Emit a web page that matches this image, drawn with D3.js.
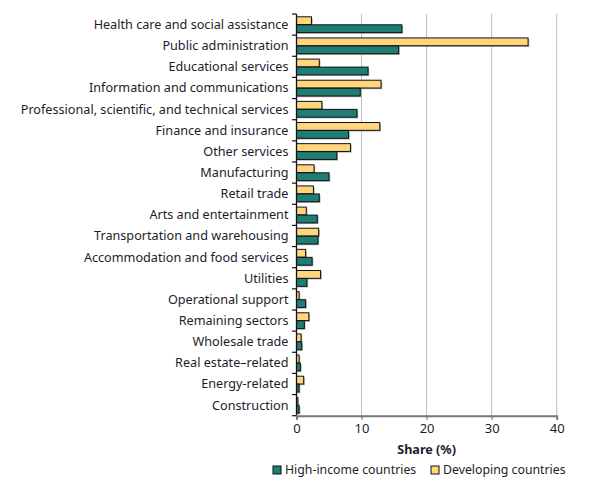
<!DOCTYPE html>
<html><head><meta charset="utf-8">
<script src="https://cdn.jsdelivr.net/npm/d3@7"></script>
<style>
html,body{margin:0;padding:0;background:#fff;}
svg{display:block;font-family:"Noto Sans",sans-serif;}
</style></head>
<body><svg id="c" width="599" height="488"></svg>
<script>
const categories = ["Health care and social assistance","Public administration","Educational services","Information and communications","Professional, scientific, and technical services","Finance and insurance","Other services","Manufacturing","Retail trade","Arts and entertainment","Transportation and warehousing","Accommodation and food services","Utilities","Operational support","Remaining sectors","Wholesale trade","Real estate–related","Energy-related","Construction"];
const highIncome = [16.2,15.7,11.0,9.8,9.3,8.0,6.2,5.0,3.5,3.2,3.3,2.4,1.6,1.4,1.2,0.8,0.6,0.4,0.4];
const developing = [2.3,35.6,3.5,13.0,3.9,12.8,8.3,2.7,2.6,1.5,3.4,1.4,3.7,0.4,1.9,0.7,0.4,1.1,0.2];
const xTicks = [0,10,20,30,40];
const seriesNames = ["High-income countries","Developing countries"];
const colors = {high:"#1e7e74", dev:"#ffd57e"};

const svg = d3.select("#c");
const x = d3.scaleLinear().domain([0,40]).range([296.5,556.7]);
const y = d3.scaleBand().domain(categories).range([14,415.7]).paddingInner(0).paddingOuter(0);
const bw = y.bandwidth();
const barH = 7.8;
const topOff = 2.8;

// gridlines
svg.append("g").selectAll("line").data(xTicks.filter(d=>d>0)).join("line")
  .attr("x1",d=>x(d)).attr("x2",d=>x(d)).attr("y1",14).attr("y2",415.7)
  .attr("stroke","#bdbdbd").attr("stroke-width",1);

const g = svg.append("g");
const rows = categories.map((c,i)=>({c, hi:highIncome[i], dv:developing[i]}));
function bars(key, off, fill){
  g.append("g").selectAll("rect").data(rows).join("rect")
    .attr("x",x(0)+1.2).attr("y",d=>y(d.c)+off+1.2)
    .attr("width",d=>Math.max(0,x(d[key])-x(0)))
    .attr("height",barH).attr("fill","#9a9a9a").attr("opacity",0.8);
  g.append("g").selectAll("rect").data(rows).join("rect")
    .attr("x",x(0)).attr("y",d=>y(d.c)+off)
    .attr("width",d=>Math.max(0,x(d[key])-x(0)))
    .attr("height",barH).attr("fill",fill).attr("stroke","#111").attr("stroke-width",1);
}
bars("dv", topOff, colors.dev);
bars("hi", topOff+barH+0.2, colors.high);

// left axis
svg.append("line").attr("x1",x(0)).attr("x2",x(0)).attr("y1",14).attr("y2",417)
  .attr("stroke","#111").attr("stroke-width",1.3);
const bounds = categories.map(c=>y(c)).concat([415.7]);
svg.append("g").selectAll("line").data(bounds).join("line")
  .attr("x1",x(0)-4.5).attr("x2",x(0)).attr("y1",d=>d).attr("y2",d=>d)
  .attr("stroke","#111").attr("stroke-width",1.2);
svg.append("g").selectAll("text").data(categories).join("text")
  .attr("x",288.5).attr("y",d=>y(d)+bw/2).attr("dy","0.35em")
  .attr("text-anchor","end").attr("font-size",12.65).attr("fill","#1d1d2a").text(d=>d);

// bottom axis
const xa = svg.append("g").attr("transform","translate(0,415.7)")
  .call(d3.axisBottom(x).tickValues(xTicks).tickSize(4).tickPadding(4));
xa.select(".domain").attr("stroke","#777").attr("stroke-width",2);
xa.selectAll(".tick line").attr("stroke","#777").attr("stroke-width",1.2);
xa.selectAll(".tick text").attr("font-size",13).attr("fill","#1d1d2a").attr("font-family","Noto Sans, sans-serif");

svg.append("text").attr("x",(x(0)+x(40))/2).attr("y",454).attr("text-anchor","middle")
  .attr("font-size",12.6).attr("font-weight","bold").attr("fill","#1d1d2a").text("Share (%)");

// legend
const leg = svg.append("g");
const legItems = [{n:seriesNames[0],c:colors.high,x:273},{n:seriesNames[1],c:colors.dev,x:431}];
legItems.forEach(it=>{
  leg.append("rect").attr("x",it.x).attr("y",466).attr("width",8).attr("height",8)
    .attr("fill",it.c).attr("stroke","#111").attr("stroke-width",1);
  leg.append("text").attr("x",it.x+12).attr("y",470).attr("dy","0.35em")
    .attr("font-size",12.3).attr("fill","#1d1d2a").text(it.n);
});
</script></body></html>
